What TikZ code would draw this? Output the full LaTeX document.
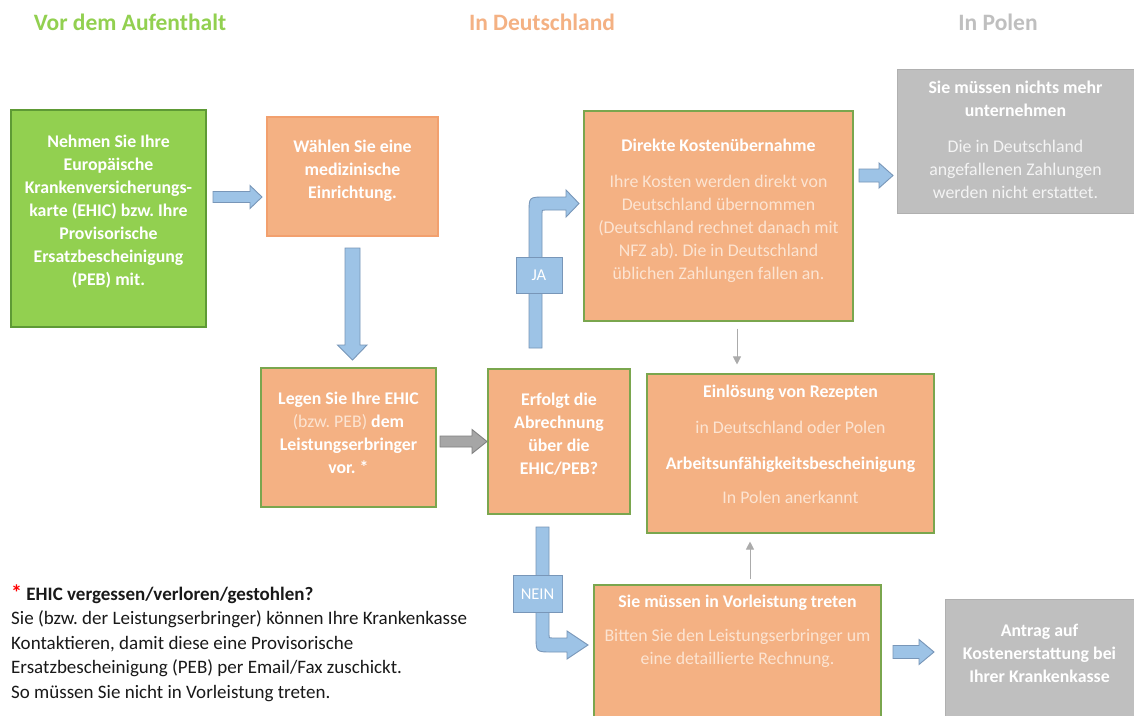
\documentclass[tikz,border=0pt]{standalone}
\usepackage{fontspec}
\setmainfont{Carlito}
\usetikzlibrary{arrows.meta,calc}
\frenchspacing
\definecolor{grn}{HTML}{92D050}
\definecolor{grnb}{HTML}{5E9A35}
\definecolor{org}{HTML}{F4B183}
\definecolor{orgb}{HTML}{7AA64E}
\definecolor{orgo}{HTML}{F2A06E}
\definecolor{gry}{HTML}{BFBFBF}
\definecolor{gryb}{HTML}{B0B0B0}
\definecolor{blu}{HTML}{9DC3E6}
\definecolor{blub}{HTML}{7896B8}
\definecolor{ltxt}{HTML}{FCE4D2}
\definecolor{gtxt}{HTML}{F4F4F4}
\definecolor{darkarrow}{HTML}{A6A6A6}
\definecolor{darkarrowb}{HTML}{808080}
\definecolor{thinarrow}{HTML}{ABABAB}
\newcommand\rblockarrow[7][blk]{\draw[#1] (#2,#5-#6) -- (#3,#5-#6) -- (#3,#5-#7) -- (#4,#5) -- (#3,#5+#7) -- (#3,#5+#6) -- (#2,#5+#6) -- cycle;}
\begin{document}
\begin{tikzpicture}[x=1pt,y=-1pt,
  obox/.style={draw=orgb, fill=org, line width=1.1pt, inner sep=0pt},
  gbox/.style={draw=grnb, fill=grn, line width=1.1pt, inner sep=0pt},
  grbox/.style={draw=gryb, fill=gry, line width=0.8pt, inner sep=0pt},
  txt/.style={text=white, align=center, inner sep=0pt, font=\fontsize{17.8}{23}\selectfont\bfseries},
  ntxt/.style={text=ltxt, align=center, inner sep=0pt, font=\fontsize{17.8}{23}\selectfont},
  head/.style={inner sep=0pt, font=\fontsize{23.5}{28}\selectfont\bfseries},
  blk/.style={fill=blu, draw=blub, line width=0.9pt, line join=miter},
  gblk/.style={fill=darkarrow, draw=darkarrowb, line width=0.9pt},
  lab/.style={fill=blu, draw=blub, line width=0.9pt, text=white, inner sep=0pt, font=\fontsize{16.5}{18}\selectfont},
  thin/.style={draw=thinarrow, line width=0.9pt, -{Triangle[length=8pt,width=8pt]}}
]
\clip (0,0) rectangle (1134,715);
\fill[white] (0,0) rectangle (1134,715);

% headers
\node[head, text=grn] (h1) at (130,22) {Vor dem Aufenthalt};
\node[head, text=org] (h2) at (542,22) {In Deutschland};
\node[head, text=gry] (h3) at (998,22) {In Polen};

% boxes
\node[gbox, minimum width=195pt, minimum height=217pt] (green) at (108.5,218.5) {};
\node[txt] (greent) at (108.5,212) {Nehmen Sie Ihre\\Europäische\\Krankenversicherungs-\\karte (EHIC) bzw. Ihre\\Provisorische\\Ersatzbescheinigung\\(PEB) mit.};

\node[obox, draw=orgo, minimum width=171pt, minimum height=119pt] (waehlen) at (352.5,176.5) {};
\node[txt] (waehlent) at (352.5,171) {Wählen Sie eine\\medizinische\\Einrichtung.};

\node[obox, minimum width=175pt, minimum height=139pt] (legen) at (348.5,437.5) {};
\node[txt] (legent) at (348.5,432.5) {Legen Sie Ihre EHIC\\{\mdseries\color{ltxt}(bzw. PEB)} dem\\Leistungserbringer\\vor. *};

\node[obox, minimum width=142pt, minimum height=145pt] (erfolgt) at (559,441.5) {};
\node[txt] (erfolgtt) at (559,434.5) {Erfolgt die\\Abrechnung\\über die\\EHIC/PEB?};

\node[obox, minimum width=269pt, minimum height=210pt] (direkte) at (718.5,216) {};
\node[ntxt] (direktet) at (718.5,211) {{\bfseries\color{white}Direkte Kostenübernahme}\\[13pt]Ihre Kosten werden direkt von\\Deutschland übernommen\\(Deutschland rechnet danach mit\\NFZ ab). Die in Deutschland\\üblichen Zahlungen fallen an.};

\node[grbox, minimum width=237pt, minimum height=144pt] (graytop) at (1015.5,141) {};
\node[ntxt, text=gtxt] (graytopt) at (1015.5,139.5) {{\bfseries\color{white}Sie müssen nichts mehr}\\{\bfseries\color{white}unternehmen}\\[13pt]Die in Deutschland\\angefallenen Zahlungen\\werden nicht erstattet.};

\node[obox, minimum width=287pt, minimum height=159pt] (einl) at (790.5,453.5) {};
\node[ntxt] (einlt) at (790.5,444) {{\bfseries\color{white}Einlösung von Rezepten}\\[13pt]in Deutschland oder Polen\\[13pt]{\bfseries\color{white}Arbeitsunfähigkeitsbescheinigung}\\[11pt]In Polen anerkannt};

\node[obox, minimum width=287pt, minimum height=140pt] (vorl) at (737.5,655) {};
\node[ntxt] (vorlt) at (737.5,631.5) {{\bfseries\color{white}Sie müssen in Vorleistung treten}\\[11pt]Bitten Sie den Leistungserbringer um\\eine detaillierte Rechnung.};

\node[grbox, minimum width=189pt, minimum height=121pt] (graybot) at (1039.5,659.5) {};
\node[txt] (graybott) at (1039.5,653) {Antrag auf\\Kostenerstattung bei\\Ihrer Krankenkasse};

% block arrows
\rblockarrow{213}{250}{262}{197}{5.5}{11.5}
\rblockarrow{859}{879}{893}{175.5}{6.5}{12.5}
\rblockarrow[gblk]{440}{472}{487}{441.5}{5.5}{12}
\rblockarrow{893}{919}{934}{652}{6.5}{12.5}
\draw[blk] (345,248) -- (360,248) -- (360,345) -- (367,345) -- (352.5,360) -- (337.5,345) -- (345,345) -- cycle;

% JA bent arrow
\draw[blk] (529,348) -- (529,213) .. controls (529,197) .. (545,197) -- (566,197) -- (566,190) -- (579,203.5) -- (566,217) -- (566,210) -- (545,210) .. controls (542,210) .. (542,213) -- (542,348) -- cycle;
\node[lab, minimum width=46pt, minimum height=36pt] (ja) at (539,275) {JA};

% NEIN bent arrow
\draw[blk] (536,527) -- (549,527) -- (549,635) .. controls (549,638) .. (552,638) -- (567,638) -- (567,631) -- (588,645) -- (567,659) -- (567,652) -- (552,652) .. controls (536,652) .. (536,636) -- cycle;
\node[lab, minimum width=49pt, minimum height=37pt] (nein) at (537.5,594) {NEIN};

% thin arrows
\draw[thin] ([xshift=18.5pt,yshift=-7pt]direkte.south) -- ([xshift=-53.5pt,yshift=9pt]einl.north);
\draw[thin] ([xshift=12.5pt,yshift=5pt]vorl.north) -- ([xshift=-40.5pt,yshift=-8pt]einl.south);

% footnote
\node[anchor=west, align=left, inner sep=0pt, text=black!90, font=\fontsize{19}{24.5}\selectfont] (note) at (11,643) {{\color{red}\bfseries\fontsize{22}{24}\selectfont*}\ \textbf{EHIC vergessen/verloren/gestohlen?}\\Sie (bzw. der Leistungserbringer) können Ihre Krankenkasse\\Kontaktieren, damit diese eine Provisorische\\Ersatzbescheinigung (PEB) per Email/Fax zuschickt.\\So müssen Sie nicht in Vorleistung treten.};
\end{tikzpicture}
\end{document}
